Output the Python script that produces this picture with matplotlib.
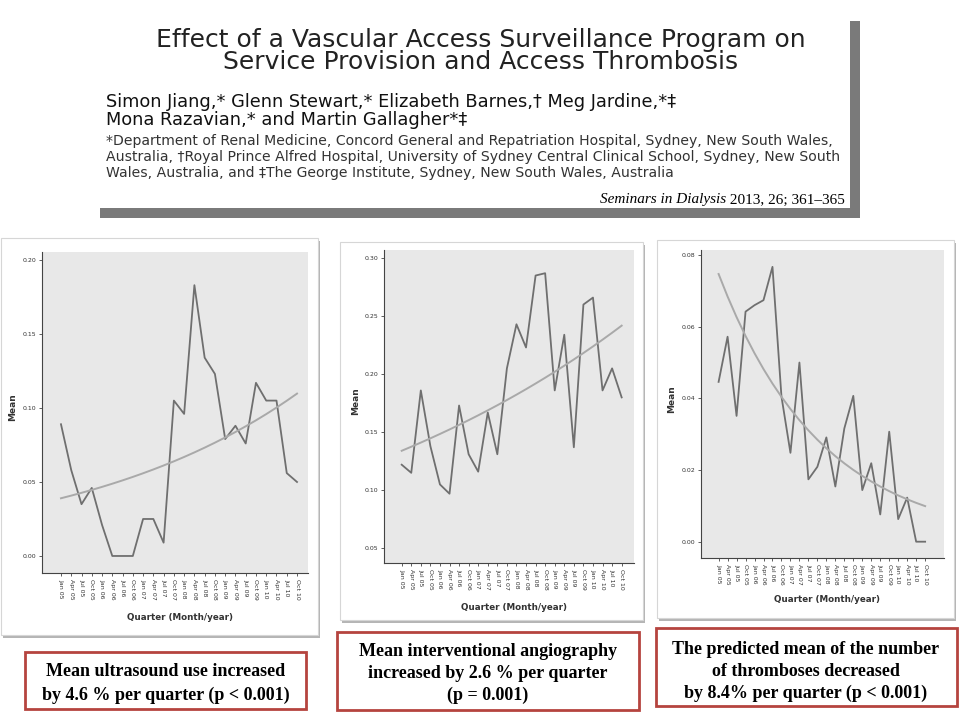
import numpy as np
import matplotlib
matplotlib.use("Agg")
from matplotlib import pyplot as plt
from matplotlib.patches import Rectangle

W, H = 960, 720

quarters = ["Jan 05", "Apr 05", "Jul 05", "Oct 05", "Jan 06", "Apr 06", "Jul 06", "Oct 06",
            "Jan 07", "Apr 07", "Jul 07", "Oct 07", "Jan 08", "Apr 08", "Jul 08", "Oct 08",
            "Jan 09", "Apr 09", "Jul 09", "Oct 09", "Jan 10", "Apr 10", "Jul 10", "Oct 10"]

# mean ultrasound use per quarter
ultrasound = [0.089, 0.058, 0.035, 0.046, 0.021, 0.000, 0.000, 0.000, 0.025, 0.025, 0.009, 0.105,
              0.096, 0.183, 0.134, 0.123, 0.079, 0.088, 0.076, 0.117, 0.105, 0.105, 0.056, 0.050]
# mean interventional angiography per quarter
angiography = [0.122, 0.115, 0.186, 0.138, 0.105, 0.097, 0.173, 0.131, 0.116, 0.167, 0.131, 0.205,
               0.243, 0.223, 0.285, 0.287, 0.186, 0.234, 0.137, 0.260, 0.266, 0.186, 0.205, 0.180]
# mean number of thromboses per quarter
thrombosis = [0.0446, 0.0572, 0.0351, 0.0642, 0.0660, 0.0674, 0.0767, 0.0405, 0.0248, 0.0500,
              0.0174, 0.0209, 0.0291, 0.0154, 0.0316, 0.0407, 0.0144, 0.0219, 0.0076, 0.0307,
              0.0063, 0.0123, 0.0000, 0.0000]

# fitted exponential trend: value at first quarter and growth per quarter
trend_start = [0.039, 0.134, 0.0747]
trend_rate = [1.046, 1.026, 0.916]

yticks_list = [[0.00, 0.05, 0.10, 0.15, 0.20],
               [0.05, 0.10, 0.15, 0.20, 0.25, 0.30],
               [0.00, 0.02, 0.04, 0.06, 0.08]]

captions = [["Mean ultrasound use increased", "by 4.6 % per quarter (p < 0.001)"],
            ["Mean interventional angiography", "increased by 2.6 % per quarter", "(p = 0.001)"],
            ["The predicted mean of the number", "of thromboses decreased", "by 8.4% per quarter (p < 0.001)"]]

title = ["Effect of a Vascular Access Surveillance Program on",
         "Service Provision and Access Thrombosis"]
authors = ["Simon Jiang,* Glenn Stewart,* Elizabeth Barnes,\u2020 Meg Jardine,*\u2021",
           "Mona Razavian,* and Martin Gallagher*\u2021"]
affil = ["*Department of Renal Medicine, Concord General and Repatriation Hospital, Sydney, New South Wales,",
         "Australia, \u2020Royal Prince Alfred Hospital, University of Sydney Central Clinical School, Sydney, New South",
         "Wales, Australia, and \u2021The George Institute, Sydney, New South Wales, Australia"]

fig = plt.figure(figsize=(9.6, 7.2), dpi=100)
fig.patch.set_facecolor("white")

# background layer in pixel coordinates
bg = fig.add_axes([0, 0, 1, 1], zorder=0)
bg.set_xlim(0, W)
bg.set_ylim(H, 0)
bg.axis("off")

# header card
bg.add_patch(Rectangle((100, 21), 760, 197, facecolor="#7a7a7a", edgecolor="none"))
bg.add_patch(Rectangle((97, 18), 753, 190, facecolor="white", edgecolor="none"))
for i, line in enumerate(title):
    bg.text(481, 40 + 22 * i, line, ha="center", va="center", fontsize=18, color="#222222",
            family="DejaVu Sans")
for i, line in enumerate(authors):
    bg.text(106, 102 + 18 * i, line, ha="left", va="center", fontsize=12.8, color="#111111",
            family="DejaVu Sans")
for i, line in enumerate(affil):
    bg.text(106, 141 + 16 * i, line, ha="left", va="center", fontsize=10.1, color="#333333",
            family="DejaVu Sans")
yr = bg.text(845, 200, " 2013, 26; 361\u2013365", ha="right", va="center", fontsize=11,
             family="Liberation Serif", color="black")
fig.canvas.draw()
ext = yr.get_window_extent(fig.canvas.get_renderer())
bg.text(ext.x0, 200, "Seminars in Dialysis", ha="right", va="center",
        fontsize=11, family="Liberation Serif", style="italic", color="black")

# chart cards
cards = [(1, 238, 317, 397), (340, 242, 303, 378), (657, 240, 297, 378)]
for x, y, w, h in cards:
    bg.add_patch(Rectangle((x + 2, y + 3), w, h, facecolor="#b5b5b5", edgecolor="none"))
    bg.add_patch(Rectangle((x, y), w, h, facecolor="white", edgecolor="#d6d6d6", lw=0.8))

# caption boxes
boxes = [(25, 652, 281, 57), (337, 632, 302, 78), (656, 628, 301, 78)]
line_y = [[672, 695], [652, 673, 695], [650, 672, 693]]
centers = [166, 488, 806]
for (x, y, w, h), cx, ys, lines in zip(boxes, centers, line_y, captions):
    bg.add_patch(Rectangle((x, y), w, h, facecolor="white", edgecolor="#b5443f", lw=2))
    for yy, txt in zip(ys, lines):
        bg.text(cx, yy, txt, ha="center", va="center", fontsize=13, fontweight="bold",
                family="Liberation Serif")

# axes placement in pixels: left, top, right, bottom, and x / y limits
axes_px = [(42, 252, 308, 573), (384, 250, 634, 563), (701, 250, 944, 558)]
xlims = [(-1.85, 24.07), (-1.85, 24.29), (-1.96, 25.1)]
ylims = [(-0.0115, 0.2054), (0.0373, 0.307), (-0.00455, 0.0814)]
series = [ultrasound, angiography, thrombosis]
xlabel_y = [618, 608, 600]
mean_x = [13, 356, 672]

x = np.arange(len(quarters))
for k in range(3):
    l, t, r, b = axes_px[k]
    ax = fig.add_axes([l / W, 1 - b / H, (r - l) / W, (b - t) / H], zorder=2)
    ax.set_facecolor("#e8e8e8")
    ax.plot(x, series[k], color="#6f6f6f", lw=1.3)
    trend = trend_start[k] * trend_rate[k] ** x
    ax.plot(x, trend, color="#a9a9a9", lw=1.4)
    ax.set_xlim(*xlims[k])
    ax.set_ylim(*ylims[k])
    ax.set_yticks(yticks_list[k])
    ax.set_yticklabels(["%.2f" % v for v in yticks_list[k]])
    ax.set_xticks(x)
    ax.set_xticklabels(quarters, rotation=-90)
    ax.tick_params(axis="both", labelsize=4.5, length=2.5, width=0.6, color="#444444",
                   labelcolor="#333333", pad=1.5)
    for s in ["top", "right"]:
        ax.spines[s].set_visible(False)
    for s in ["left", "bottom"]:
        ax.spines[s].set_color("#444444")
        ax.spines[s].set_linewidth(0.8)
    cx = (l + r) / 2
    bg.text(cx + 5, xlabel_y[k], "Quarter (Month/year)", ha="center", va="center",
            fontsize=6.3, fontweight="bold", color="#333333")
    bg.text(mean_x[k], (t + b) / 2 - 5, "Mean", ha="center", va="center", rotation=90,
            fontsize=6.5, fontweight="bold", color="#333333")

fig.savefig("out.png", dpi=100)
